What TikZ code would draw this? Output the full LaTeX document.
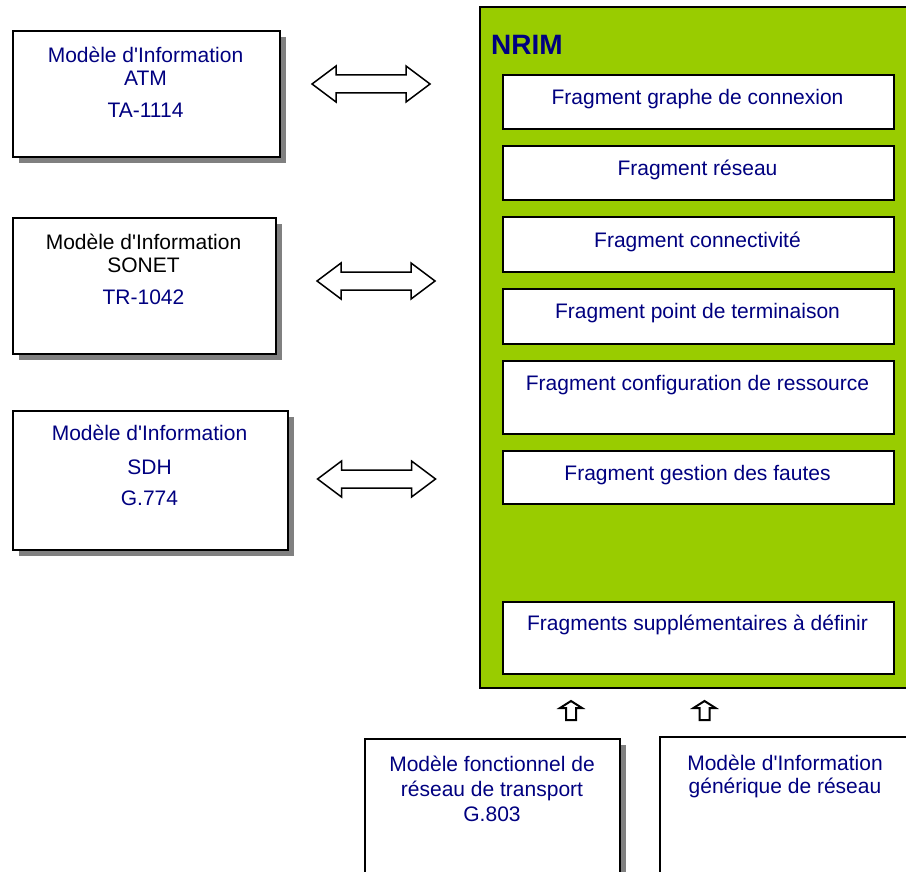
\documentclass[tikz,border=0pt]{standalone}
\usepackage{fontspec}
\setmainfont{Liberation Sans}[Ligatures=TeXOff]
\usetikzlibrary{shadows}
\definecolor{nrimgreen}{HTML}{99CC00}
\definecolor{txtblue}{HTML}{000080}
\definecolor{shadowgray}{HTML}{808080}
\tikzset{
  modelbox/.style={draw=black, line width=2pt, fill=white, inner sep=0pt,
    anchor=north west,
    drop shadow={shadow xshift=6pt, shadow yshift=-6pt, fill=shadowgray, opacity=1}},
  fragbox/.style={draw=black, line width=2pt, fill=white, inner sep=0pt,
    anchor=north west, minimum width=391pt},
  label/.style={anchor=base, inner sep=0pt, text=txtblue,
    font=\fontsize{21}{25}\selectfont},
  blocklabel/.style={label, text=black},
  outline/.style={draw=black, line width=1.5pt, fill=white, line join=miter},
  dblarrow/.pic={
    \draw[outline] (-59,0) -- (-35,-18) -- (-35,-9) -- (35,-9) -- (35,-18)
      -- (59,0) -- (35,18) -- (35,9) -- (-35,9) -- (-35,18) -- cycle;
  },
  uparrow/.pic={
    \draw[outline, line width=2pt] (0,0) -- (11,7) -- (5,7) -- (5,19) -- (-5,19) -- (-5,7)
      -- (-11,7) -- cycle;
  }
}
\begin{document}
\begin{tikzpicture}[x=1pt, y=-1pt]
\clip (0,0) rectangle (906,872);
\fill[white] (0,0) rectangle (906,872);

% NRIM container and its fragments
\draw[draw=black, line width=1.5pt, fill=nrimgreen] (480,7) rectangle (915,688);
\node[anchor=base west, inner sep=0pt, text=txtblue,
      font=\bfseries\fontsize{28}{32}\selectfont] (nrim) at (491,55) {NRIM};

\node[fragbox, minimum height=54pt] (f1) at (502,74) {};
\node[label] (f1t) at (697.5,104.5) {Fragment graphe de connexion};
\node[fragbox, minimum height=54pt] (f2) at (502,145) {};
\node[label] (f2t) at (697.5,175.5) {Fragment réseau};
\node[fragbox, minimum height=55pt] (f3) at (502,216) {};
\node[label] (f3t) at (697.5,247.5) {Fragment connectivité};
\node[fragbox, minimum height=55pt] (f4) at (502,288) {};
\node[label] (f4t) at (697.5,318.5) {Fragment point de terminaison};
\node[fragbox, minimum height=73pt] (f5) at (502,360) {};
\node[label] (f5t) at (697.5,390.5) {Fragment configuration de ressource};
\node[fragbox, minimum height=53pt] (f6) at (502,450) {};
\node[label] (f6t) at (697.5,480.5) {Fragment gestion des fautes};
\node[fragbox, minimum height=72pt] (f7) at (502,601) {};
\node[label] (f7t) at (697.5,630.5) {Fragments supplémentaires à définir};

% Information models on the left
\node[modelbox, minimum width=267pt, minimum height=126pt] (atm) at (12,30) {};
\node[label] (atm1) at (145.5,62.5) {Modèle d'Information};
\node[label] (atm2) at (145.5,85.5) {ATM};
\node[label] (atm3) at (145.5,117.5) {TA-1114};

\node[modelbox, minimum width=263pt, minimum height=136pt] (sonet) at (12,217) {};
\node[blocklabel] (sonet1) at (143.5,249.5) {Modèle d'Information};
\node[blocklabel] (sonet2) at (143.5,272.5) {SONET};
\node[label] (sonet3) at (143.5,304.5) {TR-1042};

\node[modelbox, minimum width=275pt, minimum height=139pt] (sdh) at (12,410) {};
\node[label] (sdh1) at (149.5,440.5) {Modèle d'Information};
\node[label] (sdh2) at (149.5,474.5) {SDH};
\node[label] (sdh3) at (149.5,505.5) {G.774};

% Mappings between the models and NRIM
\pic at (371,84) {dblarrow};
\pic at (376,281) {dblarrow};
\pic at (376.5,479) {dblarrow};

% Models feeding NRIM from below
\node[modelbox, minimum width=255pt, minimum height=160pt] (g803) at (364,738) {};
\node[label] (g8031) at (492,771) {Modèle fonctionnel de};
\node[label] (g8032) at (492,796.5) {réseau de transport};
\node[label] (g8033) at (492,821.5) {G.803};

\node[modelbox, minimum width=255pt, minimum height=160pt] (gen) at (659,736) {};
\node[label] (gen1) at (785,770) {Modèle d'Information};
\node[label] (gen2) at (785,793.5) {générique de réseau};

\pic at (571,701) {uparrow};
\pic at (704.5,701) {uparrow};
\end{tikzpicture}
\end{document}
